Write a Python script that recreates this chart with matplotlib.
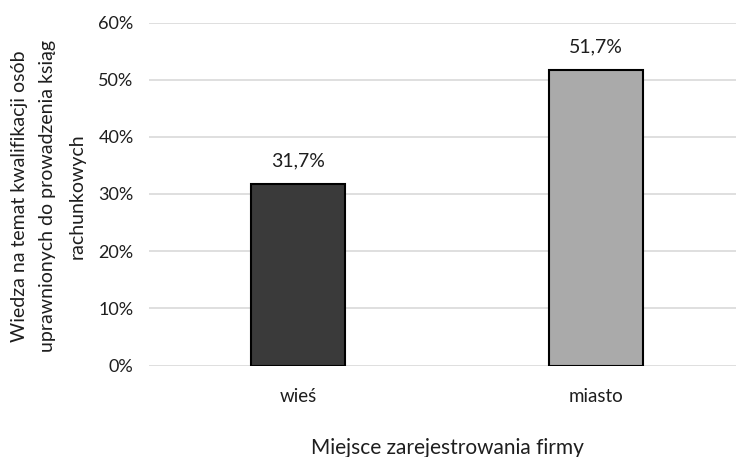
import matplotlib
matplotlib.use("Agg")
import matplotlib.pyplot as plt
from matplotlib.ticker import FuncFormatter

categories = ["wieś", "miasto"]
values = [31.7, 51.7]
bar_colors = ["#3a3a3a", "#aaaaaa"]
y_ticks = [0, 10, 20, 30, 40, 50, 60]

plt.rcParams["font.family"] = ["Lato", "DejaVu Sans"]
text_color = "#1e1e1e"

fig = plt.figure(figsize=(7.36, 4.57), dpi=100)
ax = fig.add_axes([149 / 736, 91.5 / 457, 596 / 736, 343 / 457])

x = list(range(len(categories)))
ax.bar(x, values, width=0.316, color=bar_colors,
       edgecolor="black", linewidth=1.5, zorder=3)

for xi, v in zip(x, values):
    ax.annotate(f"{v:.1f}%".replace(".", ","), (xi, v),
                xytext=(0, 16.5), textcoords="offset points",
                ha="center", va="center", fontsize=14, color=text_color)

ax.set_xlim(-0.5, 1.5)
ax.set_ylim(0, 60)
ax.set_yticks(y_ticks)
ax.yaxis.set_major_formatter(FuncFormatter(lambda v, p: f"{v:.0f}%"))
ax.set_xticks(x)
ax.set_xticklabels(categories)

ax.grid(axis="y", color="#d6d6d6", linewidth=1.1, zorder=0)
for s in ax.spines.values():
    s.set_visible(False)
ax.tick_params(axis="y", length=0, labelsize=13, colors=text_color, pad=11)
ax.tick_params(axis="x", length=0, labelsize=13.5, colors=text_color, pad=16)

ax.set_xlabel("Miejsce zarejestrowania firmy", fontsize=15,
              color=text_color, labelpad=24)
fig.text(48 / 736, 1 - 196 / 457,
         "Wiedza na temat kwalifikacji osób\nuprawnionych do prowadzenia ksiąg\nrachunkowych",
         rotation=90, ha="center", va="center", multialignment="center",
         fontsize=14, color=text_color, linespacing=1.85)

fig.savefig("out.png", dpi=100)
